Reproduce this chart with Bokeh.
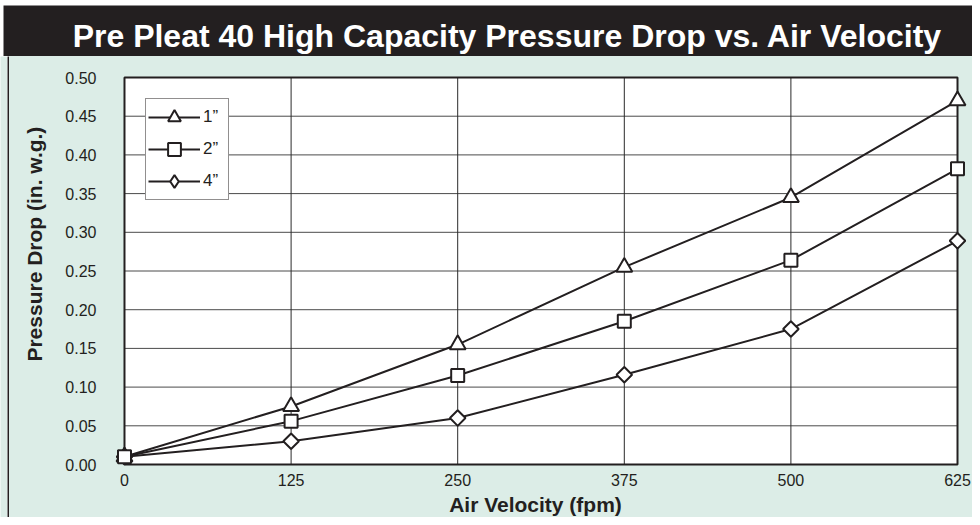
from math import pi
from bokeh.plotting import figure
from bokeh.models import Range1d, Legend, LegendItem, FixedTicker, NumeralTickFormatter
from bokeh.layouts import column, row
from bokeh.core.properties import value
from bokeh.embed import file_html
from bokeh.resources import INLINE

TITLE = "Pre Pleat 40 High Capacity Pressure Drop vs. Air Velocity"
X_LABEL = "Air Velocity (fpm)"
Y_LABEL = "Pressure Drop (in. w.g.)"

velocity = [0, 125, 250, 375, 500, 625]
drop_1in = [0.01, 0.075, 0.155, 0.255, 0.345, 0.47]
drop_2in = [0.01, 0.056, 0.115, 0.185, 0.264, 0.382]
drop_4in = [0.01, 0.03, 0.06, 0.116, 0.175, 0.289]
series_labels = ["1\u201d", "2\u201d", "4\u201d"]

x_ticks = [0, 125, 250, 375, 500, 625]
y_ticks = [0.0, 0.05, 0.10, 0.15, 0.20, 0.25, 0.30, 0.35, 0.40, 0.45, 0.50]

INK = "#231f20"
PANEL = "#dcede7"
FONT = "Liberation Sans"


def strip(w, h, color, xr=None, yr=None):
    kw = {}
    if xr is not None:
        kw["x_range"] = Range1d(*xr)
        kw["y_range"] = Range1d(*yr)
    f = figure(width=w, height=h, toolbar_location=None, output_backend="svg",
               min_border=0, title=None, **kw)
    f.axis.visible = False
    f.grid.visible = False
    f.outline_line_color = None
    f.background_fill_color = color
    f.border_fill_color = color
    return f


# ---- title bar ----
tf = strip(969, 51, INK, (0, 969), (0, 51))
tf.text(x=[504], y=[20.5], text=[TITLE], text_align="center", text_baseline="middle",
        text_color="white", text_font=value(FONT), text_font_style="bold", text_font_size="32px")

MAIN_H = 432
XL_H = 461 - MAIN_H

# ---- y axis title strip ----
yl = strip(40, MAIN_H, PANEL, (0, 40), (0, MAIN_H))
yl.text(x=[25], y=[239], text=[Y_LABEL], angle=pi / 2, text_align="center",
        text_baseline="middle", text_color=INK, text_font=value(FONT),
        text_font_style="bold", text_font_size="21px")

# ---- x axis title strip ----
xl = strip(963, XL_H, PANEL, (0, 963), (0, XL_H))
xl.text(x=[526], y=[13.5], text=[X_LABEL], text_align="center", text_baseline="middle",
        text_color=INK, text_font=value(FONT), text_font_style="bold", text_font_size="21px")

# ---- main chart ----
p = figure(width=923, height=MAIN_H, x_range=Range1d(-15, 634), y_range=Range1d(-0.00258, 0.5168),
           toolbar_location=None, output_backend="svg", title=None,
           min_border_left=55, min_border_right=3, min_border_top=8, min_border_bottom=22)
p.background_fill_color = PANEL
p.border_fill_color = PANEL
p.outline_line_color = None
p.xgrid.visible = False
p.ygrid.visible = False

for ax in (p.xaxis[0], p.yaxis[0]):
    ax.axis_line_color = None
    ax.major_tick_line_color = None
    ax.minor_tick_line_color = None
    ax.major_label_text_font = FONT
    ax.major_label_text_font_size = "16px"
    ax.major_label_text_color = INK
p.xaxis[0].ticker = FixedTicker(ticks=x_ticks)
p.yaxis[0].ticker = FixedTicker(ticks=y_ticks)
p.yaxis[0].formatter = NumeralTickFormatter(format="0.00")
p.xaxis[0].major_label_standoff = 1
p.yaxis[0].major_label_standoff = 2

xmin, xmax = x_ticks[0], x_ticks[-1]
ymin, ymax = y_ticks[0], y_ticks[-1]

# plot box background
p.quad(left=[xmin], right=[xmax], bottom=[ymin], top=[ymax], fill_color="white", line_color=None)
# grid lines
inner_y = y_ticks[1:-1]
p.segment(x0=[xmin] * len(inner_y), x1=[xmax] * len(inner_y), y0=inner_y, y1=inner_y,
          line_color="#4a4a4a", line_width=1)
inner_x = x_ticks[1:-1]
p.segment(x0=inner_x, x1=inner_x, y0=[ymin] * len(inner_x), y1=[ymax] * len(inner_x),
          line_color="#2a2a2a", line_width=1)
# box outline
p.quad(left=[xmin], right=[xmax], bottom=[ymin], top=[ymax], fill_color=None,
       line_color=INK, line_width=2)

l1 = p.line(velocity, drop_1in, line_color=INK, line_width=2)
l2 = p.line(velocity, drop_2in, line_color=INK, line_width=2)
l4 = p.line(velocity, drop_4in, line_color=INK, line_width=2)

m1 = p.scatter(velocity, drop_1in, marker="triangle", size=16, fill_color="white",
               line_color=INK, line_width=2)
m4 = p.scatter(velocity, drop_4in, marker="square", angle=pi / 4, size=11, fill_color="white",
               line_color=INK, line_width=2)
m2 = p.scatter(velocity, drop_2in, marker="square", size=13, fill_color="white",
               line_color=INK, line_width=2)
# diamond glyph used only for the legend key of the 4" series
m4_key = p.scatter(velocity, drop_4in, marker="diamond", size=16, fill_color="white",
                   line_color=INK, line_width=2, visible=False)

legend = Legend(items=[LegendItem(label=series_labels[0], renderers=[l1, m1]),
                       LegendItem(label=series_labels[1], renderers=[l2, m2]),
                       LegendItem(label=series_labels[2], renderers=[l4, m4_key])],
                location=(41, 266))
legend.border_line_color = INK
legend.border_line_width = 1.5
legend.background_fill_color = "white"
legend.background_fill_alpha = 1.0
legend.inactive_fill_alpha = 0.0
legend.label_text_font = FONT
legend.label_text_font_size = "17px"
legend.label_text_color = INK
legend.padding = 2
legend.spacing = 0
legend.glyph_height = 32
legend.glyph_width = 52
legend.label_standoff = 3
legend.label_width = 23
legend.label_height = 20
legend.margin = 0
p.add_layout(legend)

bg = {"background-color": PANEL}
layout = column(
    strip(972, 5, "white"),
    row(strip(3, 51, "white"), tf, spacing=0),
    row(strip(7, 461, PANEL), strip(2, 461, INK),
        column(row(yl, p, spacing=0, styles=bg), xl, spacing=0, styles=bg),
        spacing=0),
    spacing=0,
)

open("out.html", "w").write(file_html(layout, INLINE))
